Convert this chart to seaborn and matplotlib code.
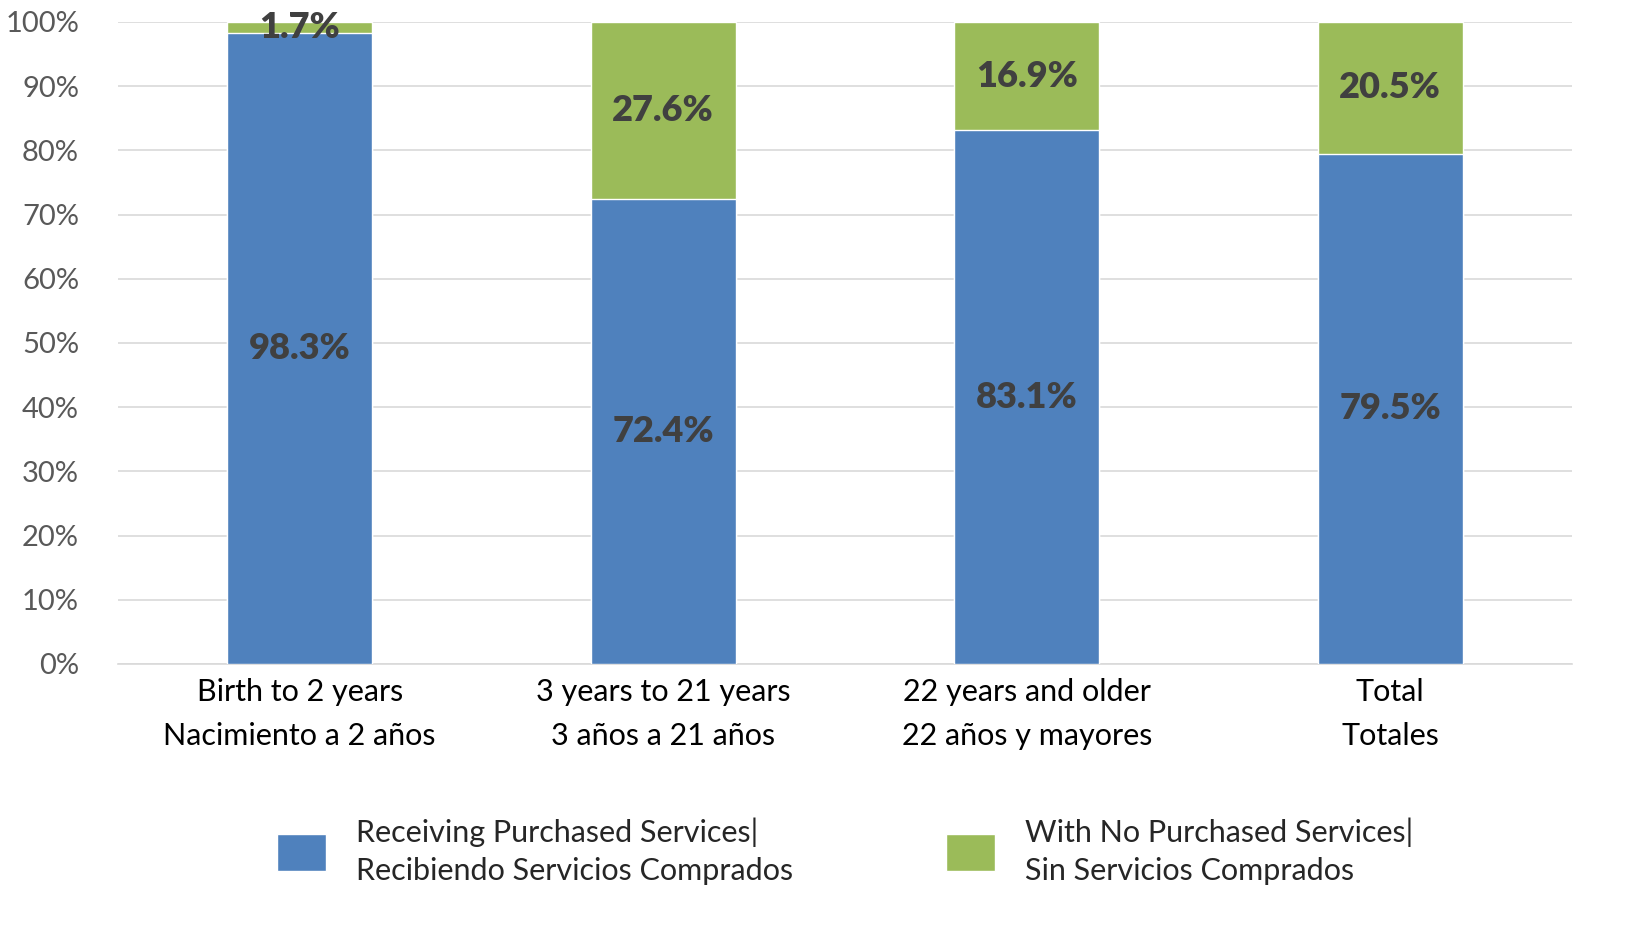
import numpy as np
import pandas as pd
import seaborn as sns
import matplotlib.pyplot as plt
from matplotlib.patches import Patch
from matplotlib.ticker import PercentFormatter

# Values
categories = ["Birth to 2 years\nNacimiento a 2 años",
              "3 years to 21 years\n3 años a 21 años",
              "22 years and older\n22 años y mayores",
              "Total\nTotales"]
receiving = [98.3, 72.4, 83.1, 79.5]
no_services = [1.7, 27.6, 16.9, 20.5]
series_names = ["Receiving Purchased Services|\nRecibiendo Servicios Comprados",
                "With No Purchased Services|\nSin Servicios Comprados"]

blue = "#4f81bd"
green = "#9bbb59"

df = pd.DataFrame({"cat": categories, "receiving": receiving, "none": no_services})
df["total"] = df["receiving"] + df["none"]

sns.set_style("white")
plt.rcParams["font.family"] = ["Lato", "DejaVu Sans"]

fig = plt.figure(figsize=(16.38, 9.31), dpi=100)
ax = fig.add_axes([0.072, 0.2868, 0.8877, 0.6896])

# stacked bars: green total behind, blue on top
sns.barplot(data=df, x="cat", y="total", color=green, width=0.4, saturation=1, ax=ax, zorder=2)
sns.barplot(data=df, x="cat", y="receiving", color=blue, width=0.4, saturation=1, ax=ax, zorder=3)

for i, (r, n) in enumerate(zip(receiving, no_services)):
    ax.text(i, r / 2, f"{r}%", ha="center", va="center", fontsize=26,
            fontweight="heavy", color="#404040", zorder=5)
    ax.text(i, r + n / 2, f"{n}%", ha="center", va="center", fontsize=26,
            fontweight="heavy", color="#404040", zorder=5)

ax.set_ylim(0, 100)
ax.set_xlim(-0.5, 3.5)
ax.set_yticks(np.arange(0, 101, 10))
ax.yaxis.set_major_formatter(PercentFormatter(decimals=0))
ax.grid(axis="y", color="#d9d9d9", linewidth=1.2, zorder=0)
ax.set_axisbelow(True)
for s in ["top", "right", "left"]:
    ax.spines[s].set_visible(False)
ax.spines["bottom"].set_color("#d9d9d9")
ax.spines["bottom"].set_linewidth(1.2)
ax.tick_params(axis="y", labelsize=21, labelcolor="#595959", length=0, pad=28)
ax.tick_params(axis="x", labelsize=22, labelcolor="black", length=0, pad=10)
for lbl in ax.get_xticklabels():
    lbl.set_linespacing(1.7)
ax.set_xlabel("")
ax.set_ylabel("")

handles = [Patch(facecolor=blue, label=series_names[0]),
           Patch(facecolor=green, label=series_names[1])]
leg = fig.legend(handles=handles, loc="center", bbox_to_anchor=(0.516, 0.086), ncol=2,
                 frameon=False, fontsize=22, handlelength=1.6, handleheight=1.5,
                 handletextpad=1.0, columnspacing=5.0)
for t in leg.get_texts():
    t.set_linespacing(1.45)

fig.savefig("out.png", dpi=100)
